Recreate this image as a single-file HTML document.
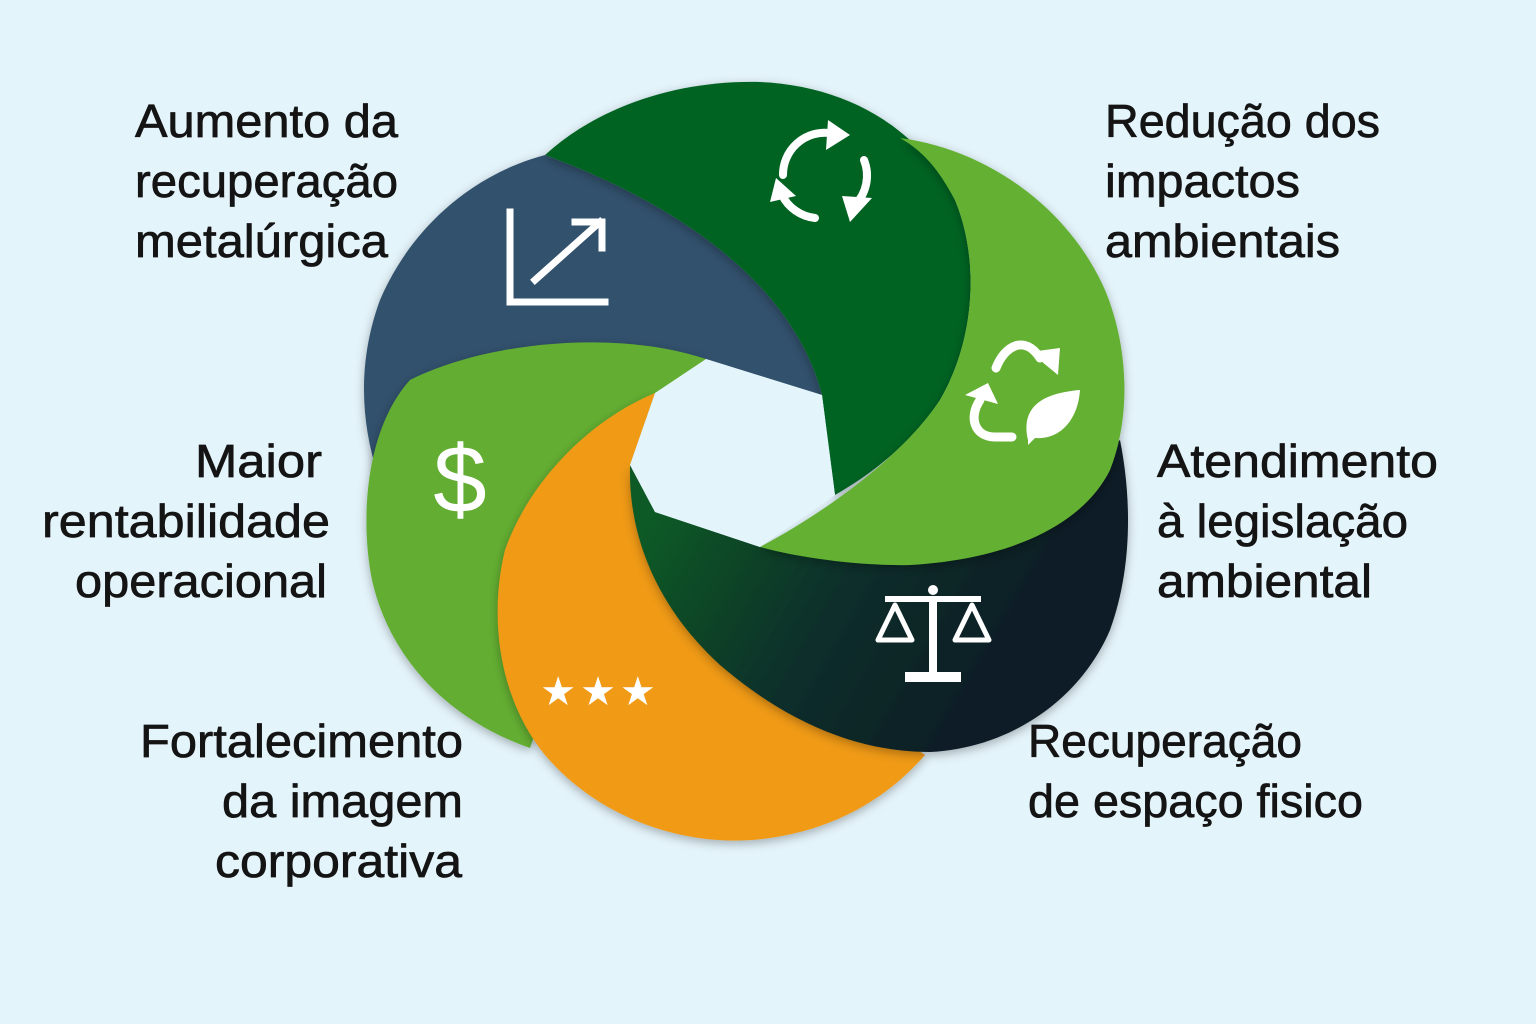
<!DOCTYPE html>
<html><head><meta charset="utf-8"><style>
html,body{margin:0;padding:0;background:#e4f4fb;}
svg{display:block}
text{font-family:"Liberation Sans",sans-serif;font-size:46px;fill:#141414;stroke:#141414;stroke-width:0.7px;}
</style></head><body>
<svg width="1536" height="1024" viewBox="0 0 1536 1024" xmlns="http://www.w3.org/2000/svg">
<defs>
<linearGradient id="blk" x1="650" y1="520" x2="960" y2="700" gradientUnits="userSpaceOnUse">
<stop offset="0" stop-color="#0b5a25"/><stop offset="0.55" stop-color="#0e2f2a"/><stop offset="1" stop-color="#0f1f26"/>
</linearGradient>
<filter id="sh" x="-20%" y="-20%" width="140%" height="140%"><feDropShadow dx="0" dy="3" stdDeviation="5" flood-opacity="0.3"/></filter>
</defs>
<rect width="1536" height="1024" fill="#e4f4fb"/>
<path filter="url(#sh)" fill="#30516d" d="M545,155 C470,175 410,230 380,300 C358,360 360,420 378,475 L706,359 L822,395 C800,310 720,220 545,155 Z"/>
<path filter="url(#sh)" fill="#63ae32" d="M706,359 C620,330 490,340 410,380 C365,430 360,520 372,580 C390,660 450,720 530,748 L640,430 Z"/>
<path filter="url(#sh)" fill="#f09a18" d="M655,393 C590,420 530,480 505,550 C488,620 500,700 545,755 C600,820 690,850 770,838 C840,828 890,795 925,755 L700,600 L630,465 Z"/>
<path filter="url(#sh)" fill="url(#blk)" d="M630,465 C628,540 660,610 720,665 C790,725 860,752 930,752 C1010,748 1080,700 1110,630 C1132,570 1132,500 1120,440 L1040,500 L760,547 L655,512 Z"/>
<path filter="url(#sh)" fill="#046321" d="M545,155 C600,105 680,80 760,82 C850,86 920,130 955,200 C980,260 975,340 940,400 C910,445 870,475 835,495 L822,395 C800,310 720,220 545,155 Z"/>
<path filter="url(#sh)" fill="#64b032" d="M900,138 C990,150 1070,210 1105,290 C1130,350 1130,420 1110,470 C1080,530 1000,560 910,565 C860,566 800,558 760,547 C820,515 900,460 940,400 C975,340 980,260 955,200 C940,172 925,152 900,138 Z"/>
<path fill="#e4f4fb" d="M706,359 L655,393 L630,465 L655,512 L760,547 L835,495 L822,395 Z"/>

<g stroke="#fff" stroke-width="7" fill="none" stroke-linecap="square">
<path d="M510,212 L510,302 L605,302"/>
<path d="M535,280 L600,222"/>
<path d="M575,222 L602,222 L602,248"/>
</g>
<g stroke="#fff" stroke-width="8" fill="none" stroke-linecap="round">
<path d="M783,175 A42,42 0 0 1 830,133"/>
<path d="M864,160 A42,42 0 0 1 855,205"/>
<path d="M815,218 A42,42 0 0 1 782,195"/>
</g>
<g fill="#fff">
<path d="M828,120 L850,135 L826,150 Z"/>
<path d="M872,198 L850,222 L842,196 Z"/>
<path d="M770,202 L776,178 L796,196 Z"/>
</g>
<g stroke="#fff" stroke-width="9" fill="none" stroke-linecap="round">
<path d="M996,368 C1005,345 1025,335 1040,358"/>
<path d="M980,400 C968,418 975,437 995,437 L1012,437"/>
</g>
<g fill="#fff">
<path d="M1030,352 L1060,348 L1058,375 Z"/>
<path d="M965,395 L988,383 L998,404 Z"/>
<path d="M1028,440 C1020,405 1045,393 1080,390 C1078,420 1060,440 1035,438 L1028,445 Z"/>
</g>
<text x="460" y="512" style="font-size:96px;fill:#fff;stroke:none" text-anchor="middle">$</text>
<text x="600" y="705" style="font-size:40px;fill:#fff;stroke:none;letter-spacing:4px" text-anchor="middle">★★★</text>
<g fill="#fff">
<circle cx="933" cy="590" r="5"/>
<rect x="885" y="596" width="96" height="6"/>
<rect x="929" y="596" width="8" height="76"/>
<path d="M905,672 L961,672 L961,682 L905,682 Z"/>
</g>
<g stroke="#fff" stroke-width="5" fill="none" stroke-linejoin="round">
<path d="M895,605 L878,640 L912,640 Z"/>
<path d="M972,605 L955,640 L989,640 Z"/>
</g>

<text x="135" y="137" textLength="263" lengthAdjust="spacingAndGlyphs">Aumento da</text>
<text x="135" y="197" textLength="263" lengthAdjust="spacingAndGlyphs">recuperação</text>
<text x="135" y="257" textLength="253" lengthAdjust="spacingAndGlyphs">metalúrgica</text>

<text x="1105" y="137" textLength="275" lengthAdjust="spacingAndGlyphs">Redução dos</text>
<text x="1105" y="197" textLength="195" lengthAdjust="spacingAndGlyphs">impactos</text>
<text x="1105" y="257" textLength="235" lengthAdjust="spacingAndGlyphs">ambientais</text>

<text x="195" y="477" textLength="127" lengthAdjust="spacingAndGlyphs">Maior</text>
<text x="42" y="537" textLength="288" lengthAdjust="spacingAndGlyphs">rentabilidade</text>
<text x="75" y="597" textLength="252" lengthAdjust="spacingAndGlyphs">operacional</text>

<text x="1157" y="477" textLength="281" lengthAdjust="spacingAndGlyphs">Atendimento</text>
<text x="1157" y="537" textLength="251" lengthAdjust="spacingAndGlyphs">à legislação</text>
<text x="1157" y="597" textLength="215" lengthAdjust="spacingAndGlyphs">ambiental</text>

<text x="140" y="757" textLength="323" lengthAdjust="spacingAndGlyphs">Fortalecimento</text>
<text x="222" y="817" textLength="241" lengthAdjust="spacingAndGlyphs">da imagem</text>
<text x="215" y="877" textLength="247" lengthAdjust="spacingAndGlyphs">corporativa</text>

<text x="1028" y="757" textLength="274" lengthAdjust="spacingAndGlyphs">Recuperação</text>
<text x="1028" y="817" textLength="335" lengthAdjust="spacingAndGlyphs">de espaço fisico</text>
</svg>
</body></html>
